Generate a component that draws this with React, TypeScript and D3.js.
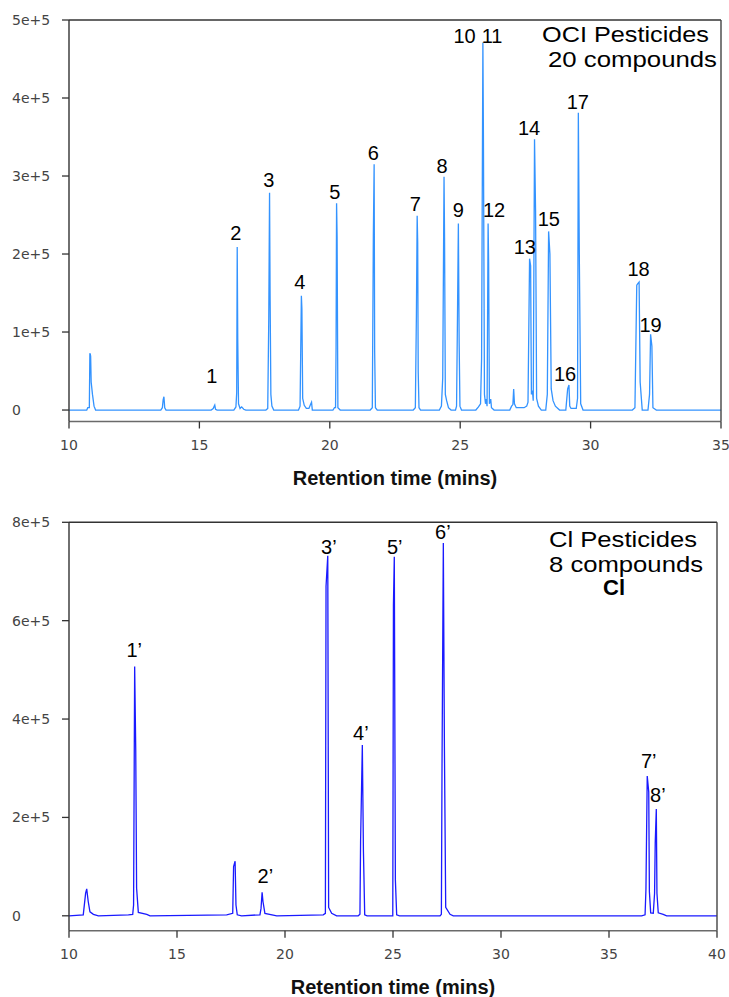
import React from 'react'
import * as d3 from 'd3'

// retention time (min), detector response (thousands of counts)
const ociTrace: [number, number][] = [
  [10.0, 0], [10.68, 0], [10.72, 3], [10.78, 3], [10.8, 72.7], [10.82, 71], [10.83, 69], [10.85, 36], [10.9, 20], [10.96, 5], [11.02, 0],
  [13.52, 0], [13.58, 3], [13.61, 13], [13.64, 17], [13.67, 3], [13.72, 0],
  [15.45, 0], [15.53, 2], [15.57, 5], [15.59, 6.4], [15.62, 1], [15.68, 0],
  [16.32, 0], [16.4, 4], [16.43, 22], [16.45, 209], [16.47, 92], [16.5, 8], [16.56, 2], [16.62, 4], [16.7, 1], [16.78, 0],
  [17.55, 0], [17.62, 2], [17.66, 118], [17.69, 278.6], [17.71, 150], [17.74, 20], [17.78, 5], [17.85, 0],
  [18.8, 0], [18.86, 5], [18.91, 146.5], [18.93, 130], [18.96, 15], [19.02, 6], [19.1, 2], [19.2, 2], [19.26, 7], [19.3, 10], [19.33, 0],
  [20.12, 0], [20.18, 3], [20.22, 3], [20.24, 79], [20.26, 265], [20.28, 222], [20.31, 3], [20.4, 0],
  [21.55, 0], [21.63, 3], [21.67, 225], [21.7, 315], [21.72, 75], [21.75, 3], [21.82, 0],
  [23.2, 0], [23.28, 3], [23.32, 120], [23.35, 249], [23.37, 215], [23.39, 49], [23.42, 3], [23.48, 0],
  [24.2, 0], [24.28, 5], [24.33, 41], [24.38, 299], [24.4, 221], [24.43, 20], [24.48, 12], [24.55, 3], [24.65, 0],
  [24.82, 0], [24.86, 5], [24.89, 101], [24.93, 239], [24.96, 86], [24.99, 5], [25.05, 0],
  [25.6, 0], [25.7, 4], [25.78, 8], [25.82, 66], [25.87, 471], [25.89, 353], [25.93, 20], [25.97, 8], [26.0, 14], [26.03, 5],
  [26.07, 239], [26.09, 190], [26.12, 8], [26.17, 14], [26.2, 3], [26.3, 0],
  [26.9, 0], [26.97, 5], [27.02, 7], [27.05, 27], [27.08, 8], [27.15, 3], [27.45, 3], [27.55, 5],
  [27.6, 10], [27.66, 194], [27.7, 185], [27.73, 20], [27.77, 25], [27.8, 12], [27.85, 347], [27.89, 255], [27.93, 15], [28.0, 5], [28.11, 0],
  [28.28, 0], [28.34, 20], [28.39, 229], [28.44, 200], [28.49, 27], [28.56, 12], [28.65, 5], [28.81, 0],
  [29.05, 0], [29.12, 27], [29.17, 32], [29.2, 5], [29.25, 2],
  [29.45, 2], [29.5, 15], [29.53, 381], [29.57, 188], [29.62, 8], [29.71, 0],
  [31.6, 0], [31.7, 3], [31.77, 160], [31.81, 162], [31.86, 164], [31.9, 36], [31.98, 0],
  [32.2, 0], [32.26, 20], [32.3, 97], [32.35, 82], [32.39, 3], [32.52, 0],
  [35.0, 0],
]

const clTrace: [number, number][] = [
  [10.0, 0], [10.66, 2], [10.77, 46], [10.82, 54.8], [10.89, 29], [10.97, 8], [11.13, 3], [11.36, 0],
  [12.75, 2], [12.95, 3], [12.99, 22], [13.04, 507], [13.09, 336], [13.13, 56], [13.21, 7], [13.6, 3], [13.75, 0],
  [17.3, 2], [17.58, 5], [17.62, 100], [17.69, 111], [17.73, 22], [17.79, 2], [17.99, 0],
  [18.84, 2], [18.89, 15], [18.94, 48], [18.98, 29], [19.07, 5], [19.62, 0],
  [21.77, 2], [21.87, 5], [21.9, 670], [21.98, 732], [22.02, 17], [22.16, 5], [22.39, 0],
  [23.39, 0], [23.47, 3], [23.5, 153], [23.58, 347], [23.63, 134], [23.69, 2], [23.8, 0],
  [24.99, 0], [25.02, 631], [25.06, 730], [25.11, 73], [25.17, 2], [25.3, 0],
  [27.18, 0], [27.24, 3], [27.27, 310], [27.33, 758], [27.38, 344], [27.44, 17], [27.64, 3], [27.79, 0],
  [36.51, 0], [36.67, 2], [36.71, 53], [36.77, 284], [36.84, 252], [36.87, 49], [36.93, 6], [37.05, 5],
  [37.11, 46], [37.14, 148], [37.19, 217], [37.22, 46], [37.28, 6], [37.51, 3], [37.67, 0],
  [40.0, 0],
]

// [label, time, response] where each label sits
const ociLabels: [string, number, number][] = [
  ['1', 15.48, 34.6], ['2', 16.4, 218], ['3', 17.66, 286], ['4', 18.85, 155], ['5', 20.19, 270],
  ['6', 21.67, 320], ['7', 23.28, 255], ['8', 24.3, 304], ['9', 24.93, 247], ['10', 25.17, 471],
  ['11', 26.22, 471], ['12', 26.3, 248], ['13', 27.48, 200], ['14', 27.64, 352], ['15', 28.4, 236],
  ['16', 29.02, 37.6], ['17', 29.51, 386], ['18', 31.84, 172], ['19', 32.3, 100],
]

const clLabels: [string, number, number][] = [
  ['1’', 13.02, 526], ['2’', 19.09, 67.6], ['3’', 22.03, 736], ['4’', 23.51, 357],
  ['5’', 25.08, 736], ['6’', 27.31, 767], ['7’', 36.84, 300], ['8’', 37.26, 232],
]

const ociXTicks = [10, 15, 20, 25, 30, 35]
const ociYTicks = [0, 100, 200, 300, 400, 500]
const clXTicks = [10, 15, 20, 25, 30, 35, 40]
const clYTicks = [0, 200, 400, 600, 800]

const tickFmt = (v: number) => (v === 0 ? '0' : `${v / 100}e+5`)

type Note = { text: string; x: number; y: number; anchor: string; len?: number; bold?: boolean; size: number }

const Chromatogram = ({ trace, labels, xDomain, yDomain, xTicks, yTicks, box, color, notes }: any) => {
  const x = d3.scaleLinear().domain(xDomain).range([box.left, box.right])
  const y = d3.scaleLinear().domain(yDomain).range([box.bottom, box.top])
  const line = d3
    .line<[number, number]>()
    .x(d => x(d[0]))
    .y(d => y(d[1]))
  const sans = 'Liberation Sans, Arial, sans-serif'
  return (
    <g>
      <path d={line(trace) as string} fill="none" stroke={color} strokeWidth={1.3} />
      {/* frame */}
      <line x1={box.left} x2={box.right} y1={box.top} y2={box.top} stroke="#333" strokeWidth={1.4} />
      <line x1={box.right} x2={box.right} y1={box.top} y2={box.bottom} stroke="#444" strokeWidth={1.4} />
      <line x1={box.left} x2={box.right} y1={box.bottom} y2={box.bottom} stroke="#6a6a6a" strokeWidth={1.6} />
      <line x1={box.left} x2={box.left} y1={box.top} y2={box.bottom} stroke="#333" strokeWidth={1.4} />
      {yTicks.map((t: number) => (
        <g key={'y' + t}>
          <line x1={box.left - 7} x2={box.left} y1={y(t)} y2={y(t)} stroke="#333" strokeWidth={1.3} />
          <text x={12} y={y(t)} dy="0.36em" fontFamily="DejaVu Sans, sans-serif" fontSize={14} fill="#444">
            {tickFmt(t)}
          </text>
        </g>
      ))}
      {xTicks.map((t: number) => (
        <g key={'x' + t}>
          <line x1={x(t)} x2={x(t)} y1={box.bottom} y2={box.bottom + 7} stroke="#333" strokeWidth={1.3} />
          <text x={x(t)} y={box.bottom + 28.5} textAnchor="middle" fontFamily="DejaVu Sans, sans-serif" fontSize={14} fill="#444">
            {t}
          </text>
        </g>
      ))}
      <text
        x={(box.left + box.right) / 2}
        y={box.bottom + 63.5}
        textAnchor="middle"
        fontFamily={sans}
        fontWeight="bold"
        fontSize={20}
        fill="#111"
      >
        Retention time (mins)
      </text>
      {labels.map((d: [string, number, number]) => (
        <text key={d[0]} x={x(d[1])} y={y(d[2])} textAnchor="middle" fontFamily={sans} fontSize={20} fill="#000">
          {d[0]}
        </text>
      ))}
      {notes.map((n: Note) => (
        <text
          key={n.text}
          x={n.x}
          y={n.y}
          textAnchor={n.anchor}
          fontFamily={sans}
          fontSize={n.size}
          fontWeight={n.bold ? 'bold' : 'normal'}
          textLength={n.len}
          lengthAdjust="spacingAndGlyphs"
          fill="#000"
        >
          {n.text}
        </text>
      ))}
    </g>
  )
}

const App = () => {
  const ociNotes: Note[] = [
    { text: 'OCI Pesticides', x: 709, y: 42.3, anchor: 'end', len: 167, size: 22 },
    { text: '20 compounds', x: 717, y: 66.7, anchor: 'end', len: 169, size: 22 },
  ]
  const clNotes: Note[] = [
    { text: 'Cl Pesticides', x: 549, y: 546.7, anchor: 'start', len: 148, size: 22 },
    { text: '8 compounds', x: 549, y: 571.7, anchor: 'start', len: 154, size: 22 },
    { text: 'Cl', x: 614, y: 595, anchor: 'middle', bold: true, size: 22 },
  ]
  return (
    <svg
      width={729}
      height={997}
      style={{ position: 'absolute', left: 0, top: 0, background: '#fff' }}
    >
      <Chromatogram
        trace={ociTrace}
        labels={ociLabels}
        xDomain={[10, 35]}
        yDomain={[-14.7, 500]}
        xTicks={ociXTicks}
        yTicks={ociYTicks}
        box={{ left: 69, right: 721, top: 20, bottom: 421.5 }}
        color="#3393ff"
        notes={ociNotes}
      />
      <Chromatogram
        trace={clTrace}
        labels={clLabels}
        xDomain={[10, 40]}
        yDomain={[-30.3, 800]}
        xTicks={clXTicks}
        yTicks={clYTicks}
        box={{ left: 69, right: 717, top: 522.3, bottom: 930.7 }}
        color="#1a1aff"
        notes={clNotes}
      />
    </svg>
  )
}

export default App
